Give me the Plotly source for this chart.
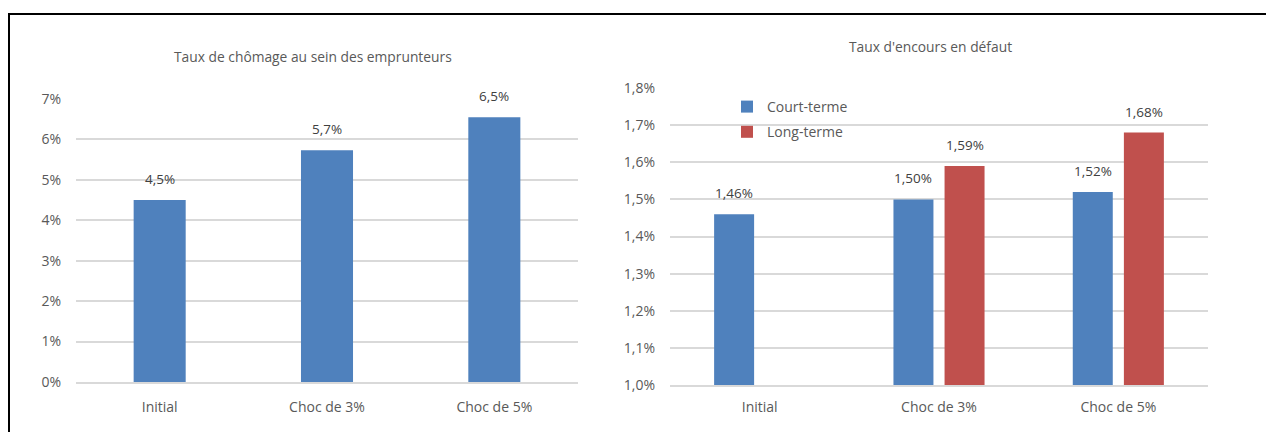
import plotly.graph_objects as go

W, H = 1266, 432

categories = ["Initial", "Choc de 3%", "Choc de 5%"]

# Chart 1: unemployment rate among borrowers (%)
chomage = [4.5, 5.73, 6.55]
chomage_labels = ["4,5%", "5,7%", "6,5%"]

# Chart 2: default outstanding rate (%)
court_terme = [1.46, 1.50, 1.52]
long_terme = [None, 1.59, 1.68]
court_labels = ["1,46%", "1,50%", "1,52%"]
long_labels = [None, "1,59%", "1,68%"]

y1_ticks = [0, 1, 2, 3, 4, 5, 6, 7]
y1_ticktext = ["0%", "1%", "2%", "3%", "4%", "5%", "6%", "7%"]
y2_ticks = [1.0, 1.1, 1.2, 1.3, 1.4, 1.5, 1.6, 1.7, 1.8]
y2_ticktext = ["1,0%", "1,1%", "1,2%", "1,3%", "1,4%", "1,5%", "1,6%", "1,7%", "1,8%"]

BLUE = "#4F81BD"
RED = "#C0504D"
GRID = "#D9D9D9"
TXT = "#595959"
LBL = "#404040"
FONT = "Open Sans, sans-serif"

fig = go.Figure()

fig.add_trace(go.Bar(x=categories, y=chomage, xaxis="x", yaxis="y",
                     marker=dict(color=BLUE, line=dict(width=0)),
                     width=0.311, showlegend=False, hoverinfo="skip"))

fig.add_trace(go.Bar(x=categories, y=court_terme, xaxis="x2", yaxis="y2",
                     name="Court-terme", legendgroup="a",
                     marker=dict(color=BLUE, line=dict(width=0)),
                     width=0.223, offset=-0.254))
fig.add_trace(go.Bar(x=categories, y=long_terme, xaxis="x2", yaxis="y2",
                     name="Long-terme", legendgroup="b",
                     marker=dict(color=RED, line=dict(width=0)),
                     width=0.223, offset=0.031))

lbl_font = dict(family=FONT, size=13.5, color=LBL)
annotations = []
for c, v, t in zip(categories, chomage, chomage_labels):
    annotations.append(dict(x=c, y=v, xref="x", yref="y", text=t, showarrow=False,
                            yshift=21, font=lbl_font))
for i, (c, v, t) in enumerate(zip(categories, court_terme, court_labels)):
    annotations.append(dict(x=i - 0.254 + 0.1115, y=v, xref="x2", yref="y2", text=t,
                            showarrow=False, yshift=21, font=lbl_font))
for i, (c, v, t) in enumerate(zip(categories, long_terme, long_labels)):
    if v is None:
        continue
    annotations.append(dict(x=i + 0.031 + 0.1115, y=v, xref="x2", yref="y2", text=t,
                            showarrow=False, yshift=21, font=lbl_font))

annotations.append(dict(x=313 / W, y=1 - 57 / H, xref="paper", yref="paper",
                        text="Taux de chômage au sein des emprunteurs", showarrow=False,
                        xanchor="center", yanchor="middle",
                        font=dict(family=FONT, size=13.8, color=TXT)))
annotations.append(dict(x=931 / W, y=1 - 46 / H, xref="paper", yref="paper",
                        text="Taux d'encours en défaut", showarrow=False,
                        xanchor="center", yanchor="middle",
                        font=dict(family=FONT, size=13.8, color=TXT)))

axis_font = dict(family=FONT, size=14, color=TXT)

fig.update_layout(
    width=W, height=H,
    margin=dict(l=0, r=0, t=0, b=0, autoexpand=False),
    paper_bgcolor="white", plot_bgcolor="white",
    barmode="overlay",
    font=dict(family=FONT, size=14, color=TXT),
    xaxis=dict(domain=[76 / W, 578 / W], anchor="y", type="category",
               categoryorder="array", categoryarray=categories, automargin=False,
               showgrid=False, showline=True, linecolor=GRID, linewidth=2,
               ticks="outside", ticklen=11, tickcolor="rgba(0,0,0,0)",
               tickfont=axis_font, zeroline=False),
    yaxis=dict(domain=[1 - 382 / H, 1 - 99 / H], anchor="x", range=[0, 7], automargin=False,
               tickvals=y1_ticks, ticktext=y1_ticktext,
               showgrid=True, gridcolor=GRID, gridwidth=2, zeroline=False,
               showline=False, ticks="", ticklabelstandoff=14, tickfont=axis_font),
    xaxis2=dict(domain=[670 / W, 1208 / W], anchor="y2", type="category",
                categoryorder="array", categoryarray=categories, automargin=False,
                showgrid=False, showline=True, linecolor=GRID, linewidth=2,
                ticks="outside", ticklen=8, tickcolor="rgba(0,0,0,0)",
                tickfont=axis_font, zeroline=False),
    yaxis2=dict(domain=[1 - 385 / H, 1 - 88 / H], anchor="x2", range=[1.0, 1.8],
                automargin=False,
                tickvals=y2_ticks, ticktext=y2_ticktext,
                showgrid=True, gridcolor=GRID, gridwidth=2, zeroline=False,
                showline=False, ticks="", ticklabelstandoff=14, tickfont=axis_font),
    legend=dict(x=727 / W, y=1 - 91 / H, xanchor="left", yanchor="top",
                bgcolor="rgba(0,0,0,0)", font=dict(family=FONT, size=14, color=TXT),
                traceorder="grouped", tracegroupgap=4, itemwidth=30),
    annotations=annotations,
    shapes=[dict(type="rect", xref="paper", yref="paper",
                 x0=9 / W, x1=1.05, y0=-0.05, y1=1 - 14 / H,
                 line=dict(color="black", width=2), fillcolor="rgba(0,0,0,0)", layer="above")],
)

fig.write_html("out.html")
